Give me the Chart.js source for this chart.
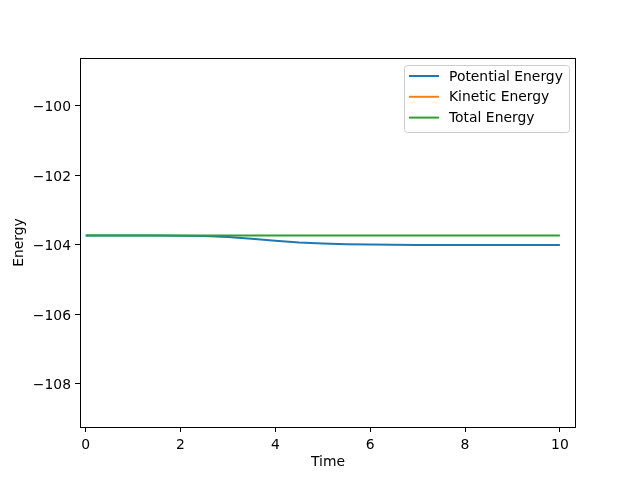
<!DOCTYPE html>
<html>
<head>
<meta charset="utf-8">
<script src="https://cdn.jsdelivr.net/npm/chart.js@4/dist/chart.umd.min.js"></script>
<style>
  html, body { margin: 0; padding: 0; background: #ffffff; }
  #wrap { width: 640px; height: 480px; }
</style>
</head>
<body>
<div id="wrap"><canvas id="energyChart" width="640" height="480"></canvas></div>
<script>
// Data
const time = [0, 0.5, 1, 1.5, 2, 2.5, 3, 3.5, 4, 4.5, 5, 5.5, 6, 6.5, 7, 7.5, 8, 8.5, 9, 9.5, 10];
const potential = [-103.74, -103.74, -103.74, -103.74, -103.745, -103.755, -103.785, -103.835, -103.89, -103.94, -103.97, -103.99, -104.0, -104.005, -104.01, -104.01, -104.01, -104.01, -104.01, -104.01, -104.01];
const kinetic = [0, 0, 0, 0, 0.005, 0.015, 0.045, 0.095, 0.15, 0.2, 0.23, 0.25, 0.26, 0.265, 0.27, 0.27, 0.27, 0.27, 0.27, 0.27, 0.27];
const total = [-103.74, -103.74, -103.74, -103.74, -103.74, -103.74, -103.74, -103.74, -103.74, -103.74, -103.74, -103.74, -103.74, -103.74, -103.74, -103.74, -103.74, -103.74, -103.74, -103.74, -103.74];
const xTicks = [0, 2, 4, 6, 8, 10];
const yTicks = [-108, -106, -104, -102, -100];
const seriesNames = ['Potential Energy', 'Kinetic Energy', 'Total Energy'];

// Colors
const blue = '#1f77b4';
const orange = '#ff7f0e';
const green = '#2ca02c';
const font = { family: 'DejaVu Sans', size: 13.9 };

const toPoints = ys => time.map((t, i) => ({ x: t, y: ys[i] }));
const minus = v => String(v).replace('-', '\u2212');

// box around the plot + legend in upper right
const framePlugin = {
  id: 'frame',
  afterDraw(chart) {
    const { ctx, chartArea: a } = chart;
    ctx.save();
    ctx.strokeStyle = '#000';
    ctx.lineWidth = 1;
    ctx.strokeRect(a.left + 0.5, a.top + 0.5, a.right - a.left - 1, a.bottom - a.top);

    // legend
    const x = 404, y = 65, w = 165, h = 67, r = 3;
    ctx.beginPath();
    ctx.roundRect(x + 0.5, y + 0.5, w, h, r);
    ctx.fillStyle = 'rgba(255,255,255,0.8)';
    ctx.fill();
    ctx.strokeStyle = '#cccccc';
    ctx.stroke();
    const colors = [blue, orange, green];
    ctx.font = '13.9px "DejaVu Sans"';
    ctx.textBaseline = 'middle';
    seriesNames.forEach((name, i) => {
      const ly = 76 + i * 20.8;
      ctx.beginPath();
      ctx.moveTo(409, ly);
      ctx.lineTo(439, ly);
      ctx.strokeStyle = colors[i];
      ctx.lineWidth = 2;
      ctx.stroke();
      ctx.fillStyle = '#000';
      ctx.fillText(name, 449, ly + 1);
    });
    ctx.restore();
  }
};

new Chart(document.getElementById('energyChart').getContext('2d'), {
  type: 'line',
  data: {
    datasets: [
      { label: seriesNames[0], data: toPoints(potential), borderColor: blue, order: 2 },
      { label: seriesNames[1], data: toPoints(kinetic), borderColor: orange, order: 1 },
      { label: seriesNames[2], data: toPoints(total), borderColor: green, order: 0 }
    ]
  },
  options: {
    responsive: false,
    animation: false,
    datasets: {
      line: { pointRadius: 0, borderWidth: 2, tension: 0, fill: false }
    },
    layout: { padding: { top: 58, right: 64, left: 11, bottom: 9 } },
    plugins: {
      legend: { display: false },
      tooltip: { enabled: false }
    },
    scales: {
      x: {
        type: 'linear',
        min: -0.12,
        max: 10.34,
        afterBuildTicks: s => { s.ticks = xTicks.map(v => ({ value: v })); },
        afterFit: s => { s.height = 44; },
        border: { display: false },
        grid: { drawOnChartArea: false, drawTicks: true, tickLength: 5, color: '#000' },
        ticks: { color: '#000', font: font, padding: 5, maxRotation: 0, callback: v => minus(v) },
        title: { display: true, text: 'Time', color: '#000', font: font, padding: { top: 0, bottom: 0 } }
      },
      y: {
        min: -109.25,
        max: -98.63,
        afterBuildTicks: s => { s.ticks = yTicks.map(v => ({ value: v })); },
        afterFit: s => { s.width = 69; },
        border: { display: false },
        grid: { drawOnChartArea: false, drawTicks: true, tickLength: 5, color: '#000' },
        ticks: { color: '#000', font: font, padding: 4, labelOffset: 2, callback: v => minus(v) },
        title: { display: true, text: 'Energy', color: '#000', font: font, padding: { top: 0, bottom: 0 } }
      }
    }
  },
  plugins: [framePlugin]
});
</script>
</body>
</html>
